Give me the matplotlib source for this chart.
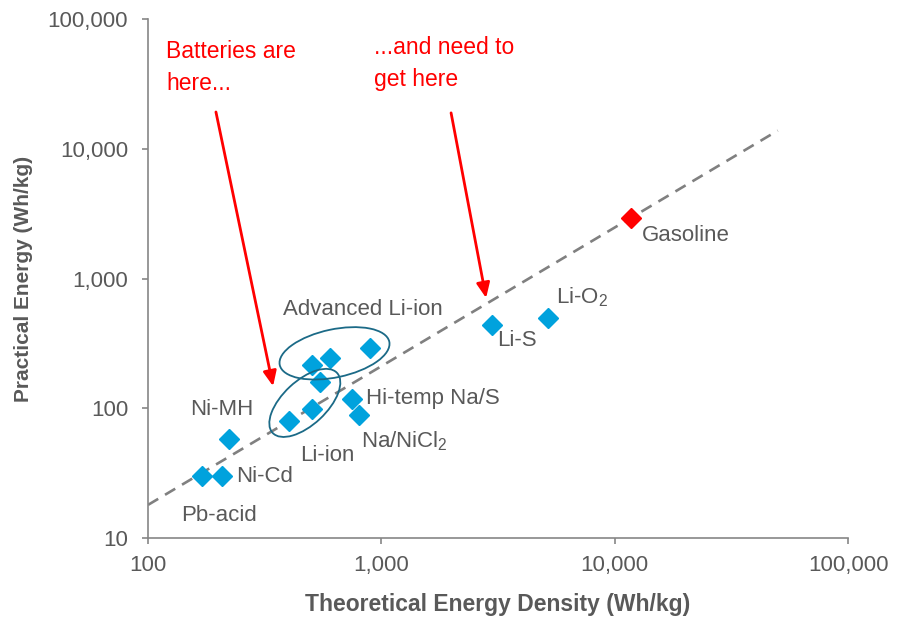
import matplotlib
matplotlib.use("Agg")
import matplotlib.pyplot as plt
import matplotlib.transforms as mtransforms
from matplotlib.patches import Ellipse
from matplotlib.ticker import FixedLocator, FixedFormatter, NullLocator

plt.rcParams['font.family'] = ['Liberation Sans', 'DejaVu Sans']
plt.rcParams['mathtext.fontset'] = 'custom'
plt.rcParams['mathtext.rm'] = 'Liberation Sans'
plt.rcParams['mathtext.it'] = 'Liberation Sans'

# ---- data ----
battery_names = ['Pb-acid', 'Ni-Cd', 'Ni-MH', 'Li-ion a', 'Li-ion b', 'Li-ion c',
                 'Adv Li-ion a', 'Adv Li-ion b', 'Adv Li-ion c',
                 'Hi-temp Na/S', 'Na/NiCl2', 'Li-S', 'Li-O2']
battery_theoretical = [170, 207, 222, 402, 506, 548, 506, 604, 897, 747, 802, 2990, 5200]
battery_practical = [30, 30, 58, 80, 98, 158, 215, 245, 292, 118, 88, 440, 500]
gasoline_theoretical = [11800]
gasoline_practical = [2950]
trend_x = [100, 50000]
trend_y = [18, 13800]
tick_values = [10, 100, 1000, 10000, 100000]
tick_labels = ['10', '100', '1,000', '10,000', '100,000']
x_tick_values = [100, 1000, 10000, 100000]
x_tick_labels = ['100', '1,000', '10,000', '100,000']

GRAY_TXT = '#595959'
AX_GRAY = '#868686'
BLUE = '#00A2DD'
RED = '#FF0000'
TEAL = '#1B6A87'

fig = plt.figure(figsize=(9.03, 6.18), dpi=100)
ax = fig.add_axes([0.1639, 0.1294, 0.7752, 0.8399])
ax.set_xscale('log')
ax.set_yscale('log')
ax.set_xlim(100, 100000)
ax.set_ylim(10, 100000)

ax.plot(trend_x, trend_y, linestyle=(0, (4.5, 3)), color='#808080', lw=1.9, zorder=1)
ax.plot(battery_theoretical, battery_practical, linestyle='none', marker='D',
        markersize=10, color=BLUE, zorder=3)
ax.plot(gasoline_theoretical, gasoline_practical, linestyle='none', marker='D',
        markersize=10, color=RED, zorder=3)

# ellipses (size in inches, centred on data positions)
def draw_ellipse(cx, cy, w, h, ang):
    tr = fig.dpi_scale_trans + mtransforms.ScaledTranslation(cx, cy, ax.transData)
    e = Ellipse((0, 0), w, h, angle=ang, transform=tr, fill=False,
                edgecolor=TEAL, lw=1.3, zorder=4)
    ax.add_artist(e)

draw_ellipse(630, 265, 1.12, 0.48, 12)
draw_ellipse(470, 110, 0.88, 0.44, 43)

fs = 16
labels = [
    ('Advanced Li-ion', 380, 582),
    ('Li-ion', 449, 43.6),
    ('Ni-MH', 151, 97),
    ('Ni-Cd', 238, 30),
    ('Pb-acid', 138, 14.8),
    ('Hi-temp Na/S', 860, 118),
    ('Na/NiCl$_2$', 818, 56),
    ('Li-S', 3133, 330),
    ('Li-O$_2$', 5610, 720),
    ('Gasoline', 13090, 2128),
]
for txt, x, y in labels:
    ax.text(x, y, txt, fontsize=fs, color=GRAY_TXT, ha='left', va='center', zorder=5)

ax.text(119.4, 42300, 'Batteries are\nhere...', fontsize=16.5, color=RED,
        ha='left', va='center', linespacing=1.55)
ax.text(931, 45400, '...and need to\nget here', fontsize=16.5, color=RED,
        ha='left', va='center', linespacing=1.55)

arrow_kw = dict(arrowstyle='-|>,head_length=0.9,head_width=0.4', color=RED, lw=2.0,
                shrinkA=0, shrinkB=0)
ax.annotate('', xy=(343.6, 148), xytext=(195.5, 19200), arrowprops=arrow_kw)
ax.annotate('', xy=(2812, 708), xytext=(1990, 18900), arrowprops=arrow_kw)

# axes styling
for s in ['top', 'right']:
    ax.spines[s].set_visible(False)
for s in ['left', 'bottom']:
    ax.spines[s].set_color(AX_GRAY)
    ax.spines[s].set_linewidth(1.2)
ax.xaxis.set_major_locator(FixedLocator(x_tick_values))
ax.xaxis.set_major_formatter(FixedFormatter(x_tick_labels))
ax.yaxis.set_major_locator(FixedLocator(tick_values))
ax.yaxis.set_major_formatter(FixedFormatter(tick_labels))
ax.xaxis.set_minor_locator(NullLocator())
ax.yaxis.set_minor_locator(NullLocator())
ax.tick_params(axis='both', direction='out', length=4.3, width=1.2, color=AX_GRAY,
               labelsize=16, labelcolor=GRAY_TXT)
ax.tick_params(axis='x', pad=8)
ax.tick_params(axis='y', pad=10)

ax.set_xlabel('Theoretical Energy Density (Wh/kg)', fontsize=16.5, fontweight='bold',
              color=GRAY_TXT)
ax.set_ylabel('Practical Energy (Wh/kg)', fontsize=15, fontweight='bold',
              color=GRAY_TXT)
ax.xaxis.set_label_coords(0.5, -0.105)
ax.yaxis.set_label_coords(-0.165, 0.5)

fig.savefig('out.png', dpi=100)
